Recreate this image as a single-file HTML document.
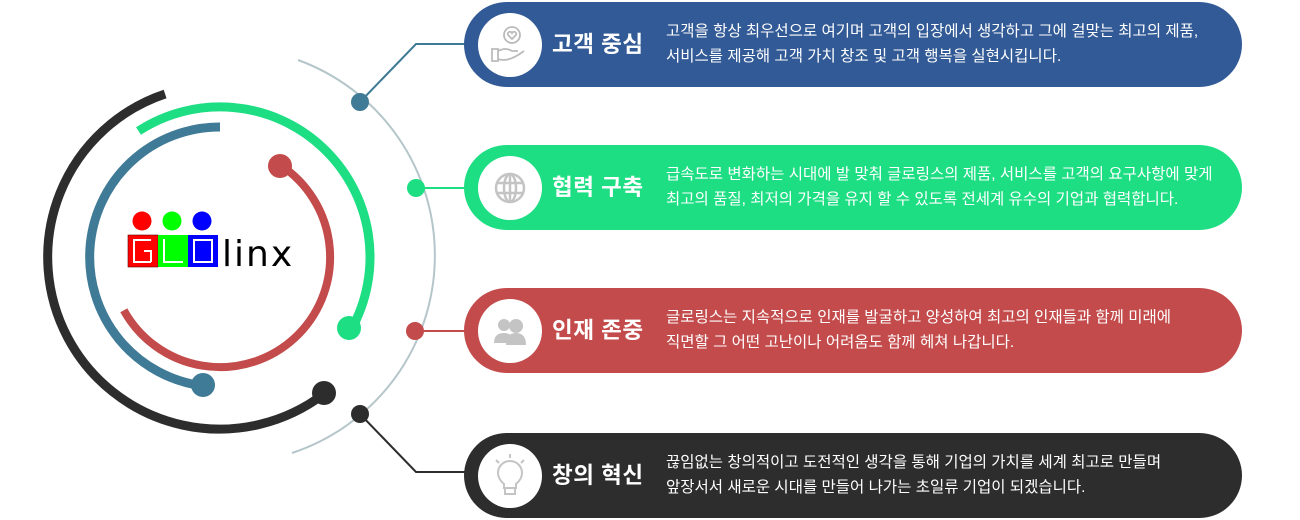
<!DOCTYPE html>
<html><head><meta charset="utf-8"><style>
body{margin:0;width:1300px;height:520px;background:#fff;overflow:hidden;position:relative;font-family:"Liberation Sans","Noto Sans CJK KR",sans-serif}
.pill{position:absolute;left:464px;width:778px;height:85px;border-radius:43px;color:#fff}
.ic{position:absolute;left:14px;top:11px;width:64px;height:64px;border-radius:50%;background:#fff}
.ic svg{position:absolute;left:0;top:0}
.t{position:absolute;left:88px;top:25px;font-size:22.5px;font-weight:bold;letter-spacing:0.5px;white-space:nowrap}
.d{position:absolute;left:202px;top:17px;font-size:15.5px;line-height:25px;white-space:nowrap}
</style></head><body>
<svg width="1300" height="520" style="position:absolute;left:0;top:0">
<path d="M298,60 A208,208 0 0 1 292,453" fill="none" stroke="#b5c6ca" stroke-width="2"/>
<polyline points="360,102 416,44 466,44" fill="none" stroke="#3f7a96" stroke-width="2"/>
<line x1="416" y1="188" x2="466" y2="188" stroke="#1ede84" stroke-width="2"/>
<line x1="415" y1="331" x2="466" y2="331" stroke="#c44b4b" stroke-width="2"/>
<polyline points="360,414 416,472 466,472" fill="none" stroke="#2d2d2d" stroke-width="2"/>
<circle cx="360" cy="102" r="9" fill="#3f7a96"/>
<circle cx="416" cy="188" r="9" fill="#1ede84"/>
<circle cx="415" cy="331" r="9" fill="#c44b4b"/>
<circle cx="360" cy="414" r="9" fill="#2d2d2d"/>
<path d="M280.5,165.2 A110,110 0 1 1 123.8,310.3" fill="none" stroke="#c44b4b" stroke-width="8"/>
<circle cx="280" cy="166" r="12" fill="#c44b4b"/>
<path d="M138.5,131 A150,150 0 0 1 351.4,329.3" fill="none" stroke="#1ede84" stroke-width="9"/>
<circle cx="349" cy="328" r="12" fill="#1ede84"/>
<path d="M220,127 A130,130 0 0 0 202.8,385.9" fill="none" stroke="#3f7a96" stroke-width="9"/>
<circle cx="203" cy="385" r="12" fill="#3f7a96"/>
<path d="M165.1,94 A172,172 0 1 0 323.7,394.1" fill="none" stroke="#2d2d2d" stroke-width="9"/>
<circle cx="324" cy="393" r="12" fill="#2d2d2d"/>
<circle cx="142" cy="221" r="9.5" fill="#f00"/>
<circle cx="172" cy="221" r="9.5" fill="#0f0"/>
<circle cx="202" cy="221" r="9.5" fill="#00f"/>
<rect x="128" y="235" width="30" height="32" fill="#f00" stroke="#600" stroke-width="0.6"/>
<rect x="158" y="235" width="30" height="32" fill="#0f0"/>
<rect x="188" y="235" width="30" height="32" fill="#00f"/>
<g fill="#fff">
<rect x="133" y="239" width="2" height="24"/><rect x="135" y="239" width="16" height="2"/><rect x="135" y="261" width="16" height="2"/><rect x="150" y="250" width="2" height="12"/><rect x="144" y="250" width="7" height="2"/>
<rect x="163" y="239" width="2" height="24"/><rect x="165" y="261" width="18" height="2"/>
<rect x="193" y="239" width="2" height="24"/><rect x="211" y="239" width="2" height="24"/><rect x="195" y="239" width="16" height="2"/><rect x="195" y="261" width="16" height="2"/>
</g>
<text x="222" y="266" font-family="DejaVu Sans,sans-serif" font-size="36" letter-spacing="2" fill="#000">linx</text>
</svg>

<div class="pill" style="top:2px;background:#325a96">
<div class="ic"><svg width="64" height="64" fill="none" stroke="#bbb" stroke-width="1.8"><circle cx="34" cy="22" r="8"/><path d="M30,22 l4,4 4,-4 a2,2 0 0 0 -4,-2 a2,2 0 0 0 -4,2"/><path d="M14,36 h6 v12 h-6z M20,38 q8,-4 14,0 h6 M20,46 q10,4 26,-8"/></svg></div>
<div class="t">고객 중심</div>
<div class="d">고객을 항상 최우선으로 여기며 고객의 입장에서 생각하고 그에 걸맞는 최고의 제품,<br>서비스를 제공해 고객 가치 창조 및 고객 행복을 실현시킵니다.</div></div>

<div class="pill" style="top:145px;background:#1ede84">
<div class="ic"><svg width="64" height="64" fill="none" stroke="#c4c4c4" stroke-width="2.5"><circle cx="32" cy="32" r="14"/><ellipse cx="32" cy="32" rx="6" ry="14"/><line x1="18" y1="27" x2="46" y2="27"/><line x1="18" y1="37" x2="46" y2="37"/><line x1="32" y1="18" x2="32" y2="46"/></svg></div>
<div class="t">협력 구축</div>
<div class="d">급속도로 변화하는 시대에 발 맞춰 글로링스의 제품, 서비스를 고객의 요구사항에 맞게<br>최고의 품질, 최저의 가격을 유지 할 수 있도록 전세계 유수의 기업과 협력합니다.</div></div>

<div class="pill" style="top:288px;background:#c44b4b">
<div class="ic"><svg width="64" height="64" fill="#c4c4c4"><circle cx="26" cy="26" r="6"/><path d="M16,44 q0,-10 10,-10 q6,0 8,4 v6z"/><circle cx="38" cy="27" r="7"/><path d="M28,46 q0,-12 10,-12 q10,0 10,12z"/></svg></div>
<div class="t">인재 존중</div>
<div class="d">글로링스는 지속적으로 인재를 발굴하고 양성하여 최고의 인재들과 함께 미래에<br>직면할 그 어떤 고난이나 어려움도 함께 헤쳐 나갑니다.</div></div>

<div class="pill" style="top:433px;background:#2d2d2d">
<div class="ic"><svg width="64" height="64" fill="none" stroke="#c4c4c4" stroke-width="2"><path d="M26,40 q-6,-5 -6,-11 a12,12 0 0 1 24,0 q0,6 -6,11 v4 h-12z"/><rect x="27" y="44" width="10" height="6"/><line x1="32" y1="10" x2="32" y2="14"/><line x1="18" y1="16" x2="21" y2="19"/><line x1="46" y1="16" x2="43" y2="19"/></svg></div>
<div class="t">창의 혁신</div>
<div class="d">끊임없는 창의적이고 도전적인 생각을 통해 기업의 가치를 세계 최고로 만들며<br>앞장서서 새로운 시대를 만들어 나가는 초일류 기업이 되겠습니다.</div></div>
</body></html>
